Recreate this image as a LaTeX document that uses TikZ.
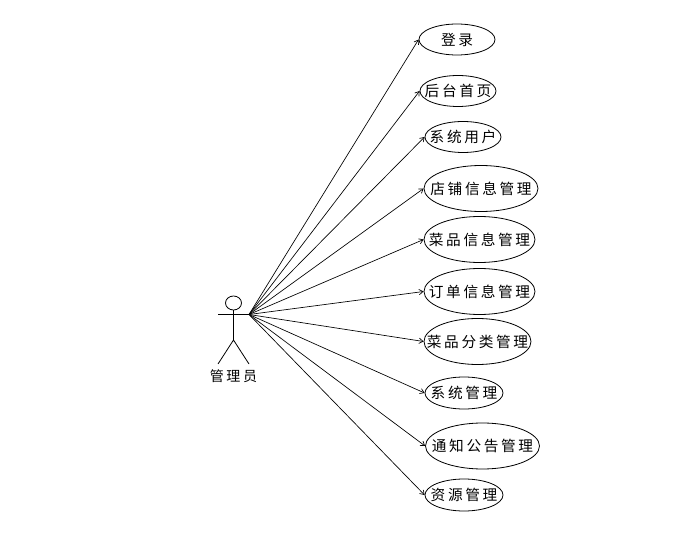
\documentclass[tikz,border=0pt]{standalone}
\usepackage{fontspec}
\setmainfont{Noto Sans CJK SC}[LetterSpace=18]
\usetikzlibrary{shapes.geometric,arrows.meta}
\tikzset{
  usecase/.style={draw,ellipse,inner sep=0pt,line width=0.6pt,font=\fontsize{11pt}{12pt}\selectfont,text=black},
  link/.style={line width=0.5pt,-{Straight Barb[length=3pt,width=4pt]}},
  stick/.style={line width=0.6pt},
  actorlabel/.style={inner sep=0pt,font=\fontsize{10.5pt}{12pt}\selectfont}
}
\newcommand{\uc}[6]{\node[usecase,minimum width=#4*0.75pt,minimum height=#5*0.75pt] (#1) at (#2,#3) {\makebox[0pt]{#6}};}
\begin{document}
\begin{tikzpicture}[x=0.75pt,y=-0.75pt]
\useasboundingbox (0,0) rectangle (693,549);
\uc{a}{457}{39.5}{76}{31}{登录}
\uc{b}{458}{91}{76}{31}{后台首页}
\uc{c}{463}{137}{76}{31}{系统用户}
\uc{d}{481}{188.5}{114}{46}{店铺信息管理}
\uc{e}{479.5}{239.5}{111}{46}{菜品信息管理}
\uc{f}{479.5}{291.5}{111}{46}{订单信息管理}
\uc{g}{477.5}{341.5}{107}{46}{菜品分类管理}
\uc{h}{464}{393}{78}{32}{系统管理}
\uc{i}{482.5}{446}{114}{46}{通知公告管理}
\uc{j}{464}{495}{78}{32}{资源管理}
\node[draw,ellipse,stick,minimum width=12pt,minimum height=10.5pt,inner sep=0pt] (head) at (233.5,303) {};
\coordinate (hip) at (233.5,340);
\coordinate (armL) at (218,314.5);
\coordinate (hub) at (249,314.5);
\coordinate (legL) at (218,364);
\coordinate (legR) at (249,364);
\draw[stick] (head.south) -- (hip);
\draw[stick] (armL) -- (hub);
\draw[stick] (legL) -- (hip) -- (legR);
\node[actorlabel] (lab) at (233.5,376) {管理员};
\foreach \n in {a,b,c,d,e,f,g,h,i,j} \draw[link] (hub) -- (\n.west);
\end{tikzpicture}
\end{document}
